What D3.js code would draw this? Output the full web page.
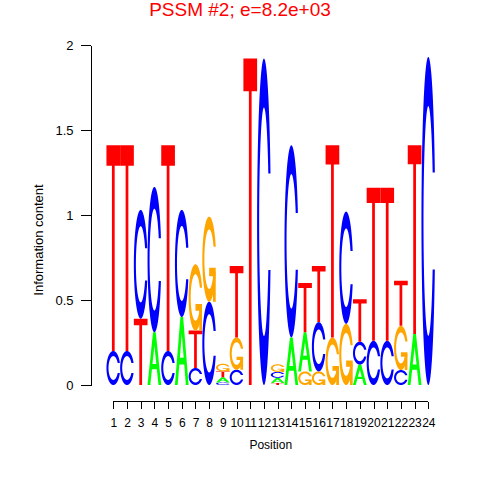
<!DOCTYPE html>
<html>
<head>
<meta charset="utf-8">
<title>PSSM logo</title>
<script src="https://d3js.org/d3.v7.min.js"></script>
<style>
    body { margin: 0; background: #fff; }
    text { font-family: "Liberation Sans", Arial, Helvetica, sans-serif; }
    .axis path, .axis line { stroke: #000; shape-rendering: crispEdges; }
    .axis text { font-size: 12px; fill: #000; }
</style>
</head>
<body>
<script>
// information content (bits) of each base at each position
var positions = d3.range(1, 25);
var bitsA = [0, 0, 0, 0.31, 0, 0.40, 0, 0, 0.03, 0, 0, 0, 0.03, 0.28, 0.23, 0, 0, 0, 0.12, 0, 0, 0, 0.30, 0];
var bitsC = [0.20, 0.20, 0.64, 0.855, 0.20, 0.63, 0.10, 0.49, 0.015, 0.09, 0, 1.92, 0.035, 1.13, 0, 0.29, 0, 0.66, 0.135, 0.26, 0.26, 0.088, 0, 1.93];
var bitsG = [0, 0, 0, 0, 0, 0, 0.39, 0.50, 0.045, 0.19, 0, 0, 0.045, 0, 0.08, 0.08, 0.28, 0.36, 0, 0, 0, 0.26, 0, 0];
var bitsT = [1.21, 1.21, 0.39, 0, 1.21, 0, 0.22, 0, 0.035, 0.42, 1.92, 0, 0.012, 0, 0.29, 0.33, 1.13, 0, 0.25, 0.90, 0.90, 0.265, 1.11, 0];
var yTicks = [0, 0.5, 1, 1.5, 2];
var title = "PSSM #2; e=8.2e+03";

var width = 480, height = 480;

var svg = d3.select("body").append("svg")
    .attr("width", width)
    .attr("height", height);

svg.append("rect").attr("width", width).attr("height", height).attr("fill", "#fff");

var x = d3.scaleLinear().domain([1, 24]).range([113.3, 428.3]);
var y = d3.scaleLinear().domain([0, 2]).range([385, 45]);
var colW = x(2) - x(1);

// letter shapes in a unit box, y pointing up (same outlines as seqLogo)
function ringShape() {
    var a1 = d3.range(100).map(function(i){ return 0.3 + Math.PI/2 + i*(Math.PI/2 - 0.3)/99; });
    var a2 = d3.range(100).map(function(i){ return Math.PI + i*(Math.PI/2)/99; });
    var outer = a1.concat(a2).map(function(a){ return [0.5 + 0.5*Math.sin(a), 0.5 + 0.5*Math.cos(a)]; });
    var maxY = 0.5 + 0.5*Math.cos(a1[0]);
    var in1 = a1.map(function(a){ return [0.5 + 0.35*Math.sin(a), 0.5 + 0.35*Math.cos(a)]; })
        .filter(function(p){ return p[1] <= maxY; });
    in1[0][1] = maxY;
    var inner = in1.concat(a2.map(function(a){ return [0.5 + 0.35*Math.sin(a), 0.5 + 0.35*Math.cos(a)]; }));
    var outerFull = outer.concat(outer.slice().reverse().map(function(p){ return [p[0], 1 - p[1]]; }));
    var innerFull = inner.concat(inner.slice().reverse().map(function(p){ return [p[0], 1 - p[1]]; }));
    return { pts: outerFull.concat(innerFull.reverse()), r1: outer[0][0] };
}
var ring = ringShape();

var glyphs = {
    A: [
        { fill: "#00ff00", pts: [[0,0],[0.4,1],[0.6,1],[1,0],[0.8,0],[0.68,0.3],[0.32,0.3],[0.2,0],[0,0]] },
        { fill: "#ffffff", pts: [[0.36,0.4],[0.5,0.75],[0.64,0.4],[0.36,0.4]] }
    ],
    C: [ { fill: "#0000ff", pts: ring.pts } ],
    G: [
        { fill: "#ffa500", pts: ring.pts },
        { fill: "#ffa500", pts: [[ring.r1,0.4],[0.5,0.4],[0.5,0.3],[ring.r1-0.2,0.3],[ring.r1-0.2,0],[ring.r1,0],[ring.r1,0.4]] }
    ],
    T: [ { fill: "#ff0000", pts: [[0,1],[1,1],[1,0.9],[0.6,0.9],[0.6,0],[0.4,0],[0.4,0.9],[0,0.9]] } ]
};

// stack letters per column, smallest at the bottom
var letters = [];
positions.forEach(function(p, i) {
    var col = [
        { base: "A", h: bitsA[i] },
        { base: "C", h: bitsC[i] },
        { base: "G", h: bitsG[i] },
        { base: "T", h: bitsT[i] }
    ].filter(function(d){ return d.h > 0; })
     .sort(function(a, b){ return a.h - b.h; });
    var y0 = 0;
    col.forEach(function(d) {
        letters.push({ pos: p, base: d.base, y0: y0, h: d.h });
        y0 += d.h;
    });
});

var line = d3.line();
var logo = svg.append("g").attr("class", "logo");

letters.forEach(function(d) {
    var left = x(d.pos) - colW/2;
    glyphs[d.base].forEach(function(part) {
        var pts = part.pts.map(function(q) {
            return [left + q[0]*colW, y(d.y0 + q[1]*d.h)];
        });
        logo.append("path")
            .attr("d", line(pts) + "Z")
            .attr("fill", part.fill);
    });
});

// axes
var yAxis = svg.append("g")
    .attr("class", "axis")
    .attr("transform", "translate(90.5,0)")
    .call(d3.axisLeft(y).tickValues(yTicks).tickSize(10).tickSizeOuter(0).tickPadding(7)
        .tickFormat(function(d){ return d; }));
yAxis.selectAll("text").style("font-size", "13px");

var xAxis = svg.append("g")
    .attr("class", "axis")
    .attr("transform", "translate(0,401.5)")
    .call(d3.axisBottom(x).tickValues(positions).tickSize(7).tickSizeOuter(0).tickPadding(10));
xAxis.select(".domain").attr("d", "M" + x(1) + ",0H" + x(24));

svg.append("text")
    .attr("x", 240).attr("y", 16)
    .attr("text-anchor", "middle")
    .attr("fill", "#ff0000")
    .style("font-size", "19px")
    .text(title);

svg.append("text")
    .attr("x", x(12.5)).attr("y", 449)
    .attr("text-anchor", "middle")
    .style("font-size", "12px")
    .text("Position");

svg.append("text")
    .attr("transform", "translate(43,240) rotate(-90)")
    .attr("text-anchor", "middle")
    .style("font-size", "13px")
    .text("Information content");
</script>
</body>
</html>
